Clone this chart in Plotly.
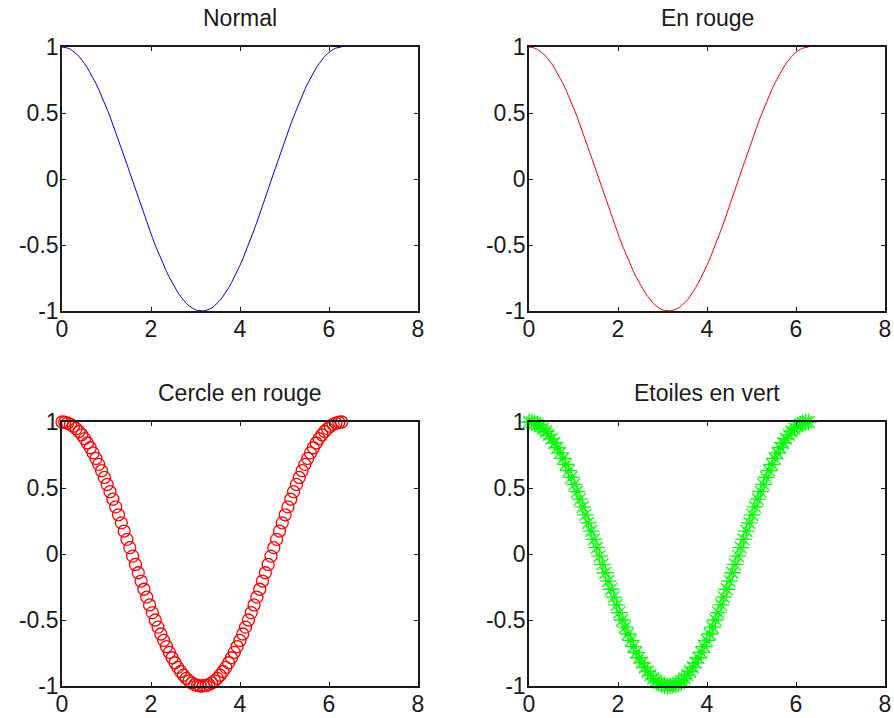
import plotly.graph_objects as go

# Sample positions and values
x_vals = [0.000, 0.063, 0.127, 0.190, 0.254, 0.317, 0.381, 0.444, 0.508, 0.571,
          0.635, 0.698, 0.762, 0.825, 0.889, 0.952, 1.015, 1.079, 1.142, 1.206,
          1.269, 1.333, 1.396, 1.460, 1.523, 1.587, 1.650, 1.714, 1.777, 1.841,
          1.904, 1.967, 2.031, 2.094, 2.158, 2.221, 2.285, 2.348, 2.412, 2.475,
          2.539, 2.602, 2.666, 2.729, 2.793, 2.856, 2.919, 2.983, 3.046, 3.110,
          3.173, 3.237, 3.300, 3.364, 3.427, 3.491, 3.554, 3.618, 3.681, 3.744,
          3.808, 3.871, 3.935, 3.998, 4.062, 4.125, 4.189, 4.252, 4.316, 4.379,
          4.443, 4.506, 4.570, 4.633, 4.696, 4.760, 4.823, 4.887, 4.950, 5.014,
          5.077, 5.141, 5.204, 5.268, 5.331, 5.395, 5.458, 5.522, 5.585, 5.648,
          5.712, 5.775, 5.839, 5.902, 5.966, 6.029, 6.093, 6.156, 6.220, 6.283]
y_vals = [1.000, 0.998, 0.992, 0.982, 0.968, 0.950, 0.928, 0.903, 0.874, 0.841,
          0.805, 0.766, 0.724, 0.679, 0.631, 0.580, 0.527, 0.472, 0.415, 0.357,
          0.297, 0.236, 0.174, 0.111, 0.048, -0.016, -0.079, -0.142, -0.205, -0.267,
          -0.327, -0.386, -0.444, -0.500, -0.554, -0.606, -0.655, -0.701, -0.745, -0.786,
          -0.824, -0.859, -0.890, -0.918, -0.942, -0.961, -0.977, -0.989, -0.996, -1.000,
          -0.999, -0.996, -0.989, -0.977, -0.961, -0.942, -0.918, -0.890, -0.859, -0.824,
          -0.786, -0.745, -0.701, -0.655, -0.606, -0.554, -0.500, -0.444, -0.386, -0.327,
          -0.267, -0.205, -0.142, -0.079, -0.016, 0.048, 0.111, 0.174, 0.236, 0.297,
          0.357, 0.415, 0.472, 0.527, 0.580, 0.631, 0.679, 0.724, 0.766, 0.805,
          0.841, 0.874, 0.903, 0.928, 0.950, 0.968, 0.982, 0.992, 0.998, 1.000]

titles = ["Normal", "En rouge", "Cercle en rouge", "Etoiles en vert"]
x_ticks = [0, 2, 4, 6, 8]
y_ticks = [-1, -0.5, 0, 0.5, 1]
y_tick_labels = ["-1", "-0.5", "0", "0.5", "1"]

W, H = 894, 718
FONT = "Liberation Sans, Arial, sans-serif"
FS = 23
INK = "#1a1a1a"

fig = go.Figure()

fig.add_trace(go.Scatter(x=x_vals, y=y_vals, mode="lines",
                         line=dict(color="#0000FF", width=1),
                         xaxis="x", yaxis="y", showlegend=False))
fig.add_trace(go.Scatter(x=x_vals, y=y_vals, mode="lines",
                         line=dict(color="#FF0000", width=1),
                         xaxis="x2", yaxis="y2", showlegend=False))
fig.add_trace(go.Scatter(x=x_vals, y=y_vals, mode="markers",
                         marker=dict(symbol="circle-open", size=12, color="#FF0000",
                                     line=dict(width=1.3, color="#FF0000")),
                         cliponaxis=False,
                         xaxis="x3", yaxis="y3", showlegend=False))
fig.add_trace(go.Scatter(x=x_vals, y=y_vals, mode="markers",
                         marker=dict(symbol="asterisk-open", size=14, color="#00FF00",
                                     line=dict(width=1.3, color="#00FF00")),
                         cliponaxis=False,
                         xaxis="x4", yaxis="y4", showlegend=False))

# pixel boxes of each axes: (left, right, top, bottom)
boxes = [(62, 418, 47, 311), (529, 885, 47, 311),
         (62, 418, 422, 686), (529, 885, 422, 686)]

layout = dict(width=W, height=H, margin=dict(l=0, r=0, t=0, b=0, autoexpand=False),
              template="none",
              paper_bgcolor="white", plot_bgcolor="white",
              font=dict(family=FONT, size=FS, color=INK),
              showlegend=False, annotations=[])

for i, (l, r, t, b) in enumerate(boxes):
    sx = "" if i == 0 else str(i + 1)
    common = dict(showline=True, linecolor=INK, linewidth=1.6, mirror="ticks",
                  ticks="inside", ticklen=4, tickwidth=1.2, tickcolor=INK,
                  showgrid=False, zeroline=False, fixedrange=True, automargin=False,
                  tickfont=dict(family=FONT, size=FS, color=INK))
    layout["xaxis" + sx] = dict(domain=[l / W, r / W], range=[0, 8],
                                tickmode="array", tickvals=x_ticks,
                                ticktext=[str(v) for v in x_ticks],
                                ticklabelstandoff=-3,
                                anchor="y" + sx, **common)
    layout["yaxis" + sx] = dict(domain=[1 - b / H, 1 - t / H], range=[-1, 1],
                                tickmode="array", tickvals=y_ticks,
                                ticktext=y_tick_labels, ticklabelstandoff=-3,
                                anchor="x" + sx, **common)
    layout["annotations"].append(dict(
        text=titles[i], xref="paper", yref="paper",
        x=(l + r) / 2 / W, y=1 - (t - 29) / H,
        xanchor="center", yanchor="middle", showarrow=False,
        font=dict(family=FONT, size=FS, color=INK)))

fig.update_layout(**layout)
fig.write_html("out.html", config={"displayModeBar": False},
               post_script="document.body.style.margin='0';document.body.style.overflow='hidden';")
